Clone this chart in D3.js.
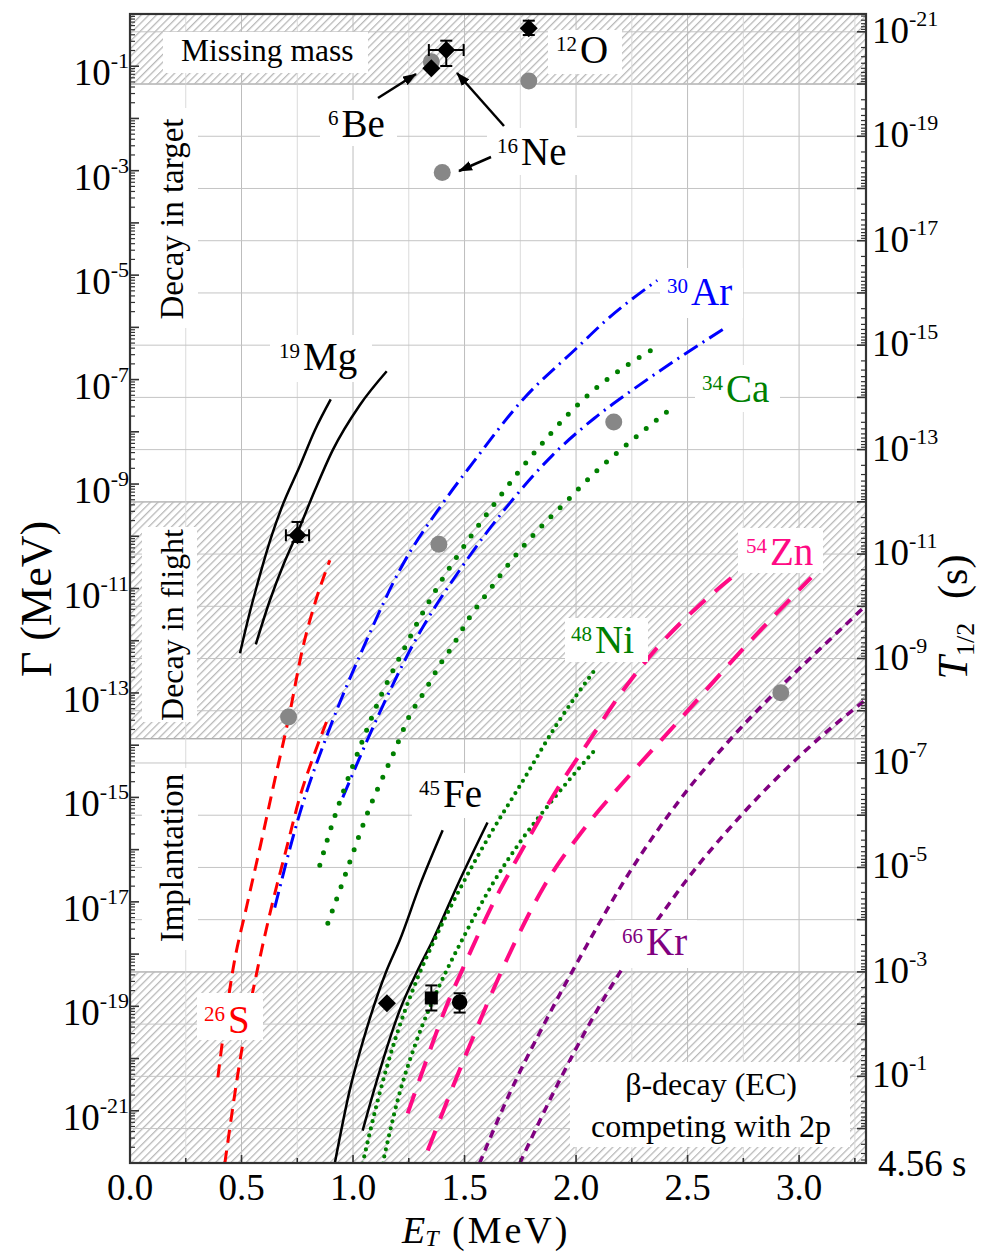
<!DOCTYPE html>
<html>
<head>
<meta charset="utf-8">
<script src="https://cdn.jsdelivr.net/npm/d3@7"></script>
<style>
  body { margin: 0; background: #fff; }
  svg { display: block; font-family: "Liberation Serif", "Times New Roman", serif; }
</style>
</head>
<body>
<svg id="chart" width="984" height="1253"></svg>
<script>
// ---------- data: [E_T (MeV), log10 Gamma (MeV)] ----------
const mg19a = [[0.493,-12.24],[0.537,-11.46],[0.582,-10.75],[0.636,-9.98],[0.681,-9.44],[0.761,-8.66],[0.829,-7.97],[0.900,-7.38]];
const mg19b = [[0.564,-12.07],[0.627,-11.23],[0.690,-10.52],[0.752,-9.92],[0.829,-9.12],[0.909,-8.35],[1.030,-7.49],[1.151,-6.84]];
const s26a  = [[0.394,-20.36],[0.430,-19.18],[0.461,-18.31],[0.524,-17.07],[0.587,-15.88],[0.649,-14.67],[0.712,-13.47],[0.775,-12.13],[0.833,-11.23],[0.896,-10.46]];
const s26b  = [[0.425,-22.01],[0.506,-19.71],[0.573,-18.26],[0.636,-17.07],[0.699,-16.02],[0.761,-15.00],[0.824,-14.20],[0.887,-13.49]];
const ar30a = [[0.649,-17.11],[0.761,-15.31],[0.887,-13.77],[1.061,-11.99],[1.209,-10.65],[1.402,-9.37],[1.536,-8.60],[1.760,-7.39],[2.002,-6.40],[2.136,-5.86],[2.364,-5.10]];
const ar30b = [[0.954,-15.00],[1.120,-13.37],[1.267,-12.09],[1.509,-10.46],[1.702,-9.37],[1.894,-8.45],[2.082,-7.74],[2.239,-7.24],[2.432,-6.67],[2.665,-6.02]];
const ca34a = [[0.851,-16.30],[0.909,-15.48],[0.954,-14.92],[1.003,-14.35],[1.052,-13.81],[1.106,-13.24],[1.164,-12.70],[1.232,-12.13],[1.299,-11.57],[1.375,-11.00],[1.455,-10.46],[1.545,-9.90],[1.639,-9.35],[1.738,-8.79],[1.845,-8.24],[1.961,-7.68],[2.091,-7.16],[2.217,-6.76],[2.360,-6.38]];
const ca34b = [[0.887,-17.41],[0.958,-16.57],[1.026,-15.75],[1.075,-15.19],[1.133,-14.62],[1.191,-14.06],[1.245,-13.51],[1.321,-12.97],[1.397,-12.41],[1.442,-12.13],[1.523,-11.55],[1.617,-11.00],[1.715,-10.44],[1.827,-9.89],[1.953,-9.35],[2.082,-8.79],[2.212,-8.30],[2.342,-7.84],[2.409,-7.61]];
const ni48a = [[1.043,-22.01],[1.111,-20.80],[1.187,-19.66],[1.276,-18.60],[1.375,-17.64],[1.487,-16.69],[1.612,-15.73],[1.755,-14.73],[1.911,-13.62],[2.082,-12.57]];
const ni48b = [[1.133,-22.01],[1.200,-20.80],[1.285,-19.66],[1.388,-18.60],[1.500,-17.64],[1.621,-16.69],[1.755,-15.82],[1.912,-14.96],[2.091,-14.06]];
const zn54a = [[1.245,-21.05],[1.321,-20.13],[1.411,-19.08],[1.509,-18.12],[1.635,-16.97],[1.769,-15.92],[1.926,-14.77],[2.060,-13.91],[2.194,-13.05],[2.373,-12.09],[2.553,-11.32],[2.709,-10.75]];
const zn54b = [[1.335,-21.76],[1.523,-19.75],[1.715,-17.87],[1.858,-16.69],[2.038,-15.59],[2.239,-14.58],[2.463,-13.52],[2.763,-12.09],[3.054,-10.79]];
const kr66a = [[1.567,-22.01],[1.702,-20.67],[1.858,-19.33],[2.047,-17.84],[2.239,-16.44],[2.463,-15.06],[2.687,-13.91],[2.911,-12.91],[3.135,-11.99],[3.296,-11.34]];
const kr66b = [[1.747,-22.01],[1.926,-20.42],[2.194,-18.37],[2.373,-17.30],[2.494,-16.59],[2.741,-15.34],[2.992,-14.25],[3.157,-13.62],[3.296,-13.14]];
const fe45a = [[0.918,-22.01],[0.985,-20.61],[1.052,-19.56],[1.151,-18.31],[1.209,-17.74],[1.299,-16.69],[1.402,-15.63]];
const fe45b = [[1.043,-21.38],[1.120,-20.23],[1.209,-19.08],[1.290,-18.31],[1.357,-17.74],[1.478,-16.59],[1.603,-15.48]];

// theory / predicted widths (grey circles)
const grayE    = [1.351, 1.788, 1.400, 1.385, 2.169, 0.711, 2.918];
const grayLogG = [-0.914, -1.284, -3.033, -10.153, -7.810, -13.462, -12.994];

// experimental points (black)
const expE     = [1.351, 1.418, 1.788, 0.751, 1.152, 1.351, 1.478];
const expLogG  = [-1.040, -0.690, -0.274, -9.981, -18.94, -18.84, -18.92];
const expErrE  = [0, 0.078, 0.025, 0.052, 0, 0.02, 0.02];
const expLogLo = [null, -0.996, -0.402, -10.109, null, -19.08, -19.12];
const expLogHi = [null, -0.511, -0.128, -9.726, null, -18.60, -18.75];
const expShape = ['diamond', 'diamond', 'diamond', 'diamond', 'diamond', 'square', 'circle'];

// tick labels
const xTicks = [0, 0.5, 1.0, 1.5, 2.0, 2.5, 3.0];
const gammaLabelExp = [-1, -3, -5, -7, -9, -11, -13, -15, -17, -19, -21];
const tLabelExp = [-21, -19, -17, -15, -13, -11, -9, -7, -5, -3, -1];

// shaded regions, Gamma limits (MeV)
const HBAR_LN2 = 4.562e-22; // MeV*s
const zoneLo = [HBAR_LN2 / 1e-20, 1.33e-14, 1e-22];
const zoneHi = [1, HBAR_LN2 / 1e-12, HBAR_LN2 / 1e-3];

// ---------- scales ----------
const L = 130, T = 14, R = 866, B = 1163;
const x = d3.scaleLinear().domain([0, 3.3]).range([L, R]);
const y = d3.scaleLog().domain([1e-22, 1]).range([B, T]);
const yl = v => y(Math.pow(10, v));

const svg = d3.select('#chart');
const defs = svg.append('defs');

defs.append('clipPath').attr('id', 'plotclip')
  .append('rect').attr('x', L).attr('y', T).attr('width', R - L).attr('height', B - T);

defs.append('pattern').attr('id', 'hatch')
  .attr('patternUnits', 'userSpaceOnUse').attr('width', 5.4).attr('height', 5.4)
  .attr('patternTransform', 'rotate(45)')
  .append('line').attr('x1', 2.5).attr('y1', 0).attr('x2', 2.5).attr('y2', 5.4)
  .attr('stroke', '#a4a4a4').attr('stroke-width', 1);

defs.append('marker').attr('id', 'arrow')
  .attr('viewBox', '0 0 14 10').attr('refX', 13).attr('refY', 5)
  .attr('markerWidth', 14).attr('markerHeight', 10)
  .attr('markerUnits', 'userSpaceOnUse').attr('orient', 'auto')
  .append('path').attr('d', 'M0,0L14,5L0,10Z').attr('fill', '#000');

const plot = svg.append('g').attr('clip-path', 'url(#plotclip)');

//=========== hatched zones ===========
plot.selectAll('rect.zone').data(d3.range(zoneLo.length)).enter()
  .append('rect').attr('class', 'zone')
  .attr('x', L).attr('width', R - L)
  .attr('y', i => y(zoneHi[i]))
  .attr('height', i => y(zoneLo[i]) - y(zoneHi[i]))
  .attr('fill', 'url(#hatch)')
  .attr('stroke', '#b0b0b0').attr('stroke-width', 1.4);

//=========== grid ===========
const xGrid = d3.range(0.25, 3.3, 0.25);
plot.selectAll('line.vg').data(xGrid).enter().append('line')
  .attr('x1', d => x(d)).attr('x2', d => x(d)).attr('y1', T).attr('y2', B)
  .attr('stroke', d => (Math.abs(d * 2 - Math.round(d * 2)) < 1e-6) ? '#bdbdbd' : '#dadada')
  .attr('stroke-width', 1);

const tGrid = d3.range(-21, 1).map(k => HBAR_LN2 / Math.pow(10, k));
plot.selectAll('line.hg').data(tGrid).enter().append('line')
  .attr('x1', L).attr('x2', R).attr('y1', d => y(d)).attr('y2', d => y(d))
  .attr('stroke', '#c4c4c4').attr('stroke-width', 1);

//=========== curves ===========
const line = d3.line().x(d => x(d[0])).y(d => yl(d[1])).curve(d3.curveMonotoneX);
const curves = [
  { d: mg19a, c: '#000000', w: 2.5, dash: null },
  { d: mg19b, c: '#000000', w: 2.5, dash: null },
  { d: fe45a, c: '#000000', w: 2.5, dash: null },
  { d: fe45b, c: '#000000', w: 2.5, dash: null },
  { d: s26a,  c: '#ff0000', w: 3,   dash: '13 8' },
  { d: s26b,  c: '#ff0000', w: 3,   dash: '13 8' },
  { d: ar30a, c: '#0000ff', w: 3,   dash: '16 6 2 6' },
  { d: ar30b, c: '#0000ff', w: 3,   dash: '16 6 2 6' },
  { d: ca34a, c: '#008000', w: 5,   dash: '0 13', cap: 'round' },
  { d: ca34b, c: '#008000', w: 5,   dash: '0 13', cap: 'round' },
  { d: ni48a, c: '#008000', w: 4.2, dash: '0 7.2', cap: 'round' },
  { d: ni48b, c: '#008000', w: 4.2, dash: '0 7.2', cap: 'round' },
  { d: zn54a, c: '#ff0a84', w: 4,   dash: '21 13' },
  { d: zn54b, c: '#ff0a84', w: 4,   dash: '21 13' },
  { d: kr66a, c: '#800080', w: 3.5, dash: '8 6' },
  { d: kr66b, c: '#800080', w: 3.5, dash: '8 6' }
];
plot.selectAll('path.curve').data(curves).enter().append('path')
  .attr('class', 'curve')
  .attr('d', s => line(s.d))
  .attr('fill', 'none')
  .attr('stroke', s => s.c)
  .attr('stroke-width', s => s.w)
  .attr('stroke-dasharray', s => s.dash)
  .attr('stroke-linecap', s => s.cap || 'butt');

//=========== points ===========
plot.selectAll('circle.gray').data(grayE).enter().append('circle')
  .attr('cx', d => x(d)).attr('cy', (d, i) => yl(grayLogG[i]))
  .attr('r', 8.5).attr('fill', '#878787');

const ebar = plot.append('g').attr('stroke', '#000').attr('stroke-width', 2);
expE.forEach((e, i) => {
  const cx = x(e), cy = yl(expLogG[i]);
  if (expErrE[i] > 0.03) {
    const x0 = x(e - expErrE[i]), x1 = x(e + expErrE[i]);
    ebar.append('line').attr('x1', x0).attr('x2', x1).attr('y1', cy).attr('y2', cy);
    ebar.append('line').attr('x1', x0).attr('x2', x0).attr('y1', cy - 6).attr('y2', cy + 6);
    ebar.append('line').attr('x1', x1).attr('x2', x1).attr('y1', cy - 6).attr('y2', cy + 6);
  }
  if (expLogLo[i] !== null) {
    const y0 = yl(expLogLo[i]), y1 = yl(expLogHi[i]);
    ebar.append('line').attr('x1', cx).attr('x2', cx).attr('y1', y0).attr('y2', y1);
    ebar.append('line').attr('x1', cx - 6).attr('x2', cx + 6).attr('y1', y0).attr('y2', y0);
    ebar.append('line').attr('x1', cx - 6).attr('x2', cx + 6).attr('y1', y1).attr('y2', y1);
  }
});
const shapePath = {
  diamond: 'M0,-9L9,0L0,9L-9,0Z',
  square: 'M-6.5,-6.5H6.5V6.5H-6.5Z',
  circle: d3.symbol().type(d3.symbolCircle).size(190)()
};
plot.selectAll('path.exp').data(expE).enter().append('path')
  .attr('d', (d, i) => shapePath[expShape[i]])
  .attr('transform', (d, i) => 'translate(' + x(d) + ',' + yl(expLogG[i]) + ')')
  .attr('fill', '#000');

//=========== labels with white boxes ===========
const boxes = svg.append('g');
function box(x0, y0, x1, y1) {
  boxes.append('rect').attr('x', x0).attr('y', y0).attr('width', x1 - x0).attr('height', y1 - y0).attr('fill', '#fff');
}
function plain(txt, px, py, size, anchor, rot) {
  const t = boxes.append('text').attr('font-size', size).attr('fill', '#000')
    .attr('text-anchor', anchor || 'start').text(txt);
  if (rot) t.attr('transform', 'translate(' + px + ',' + py + ') rotate(-90)');
  else t.attr('x', px).attr('y', py);
}
function iso(sup, main, px, py, color) {
  const t = boxes.append('text').attr('x', px).attr('y', py).attr('fill', color);
  t.append('tspan').attr('font-size', 21).attr('dy', -12).text(sup);
  t.append('tspan').attr('font-size', 39).attr('dy', 12).attr('dx', 3).text(main);
}

box(163, 32, 368, 73);   plain('Missing mass', 181, 61, 31.5);
box(131, 108, 198, 328); plain('Decay in target', 183, 219, 33, 'middle', true);
box(142, 527, 197, 722); plain('Decay in flight', 183, 625, 32, 'middle', true);
box(142, 768, 198, 950); plain('Implantation', 183, 858, 33, 'middle', true);
box(570, 1062, 850, 1147);
plain('\u03b2-decay (EC)', 711, 1095, 32, 'middle');
plain('competing with 2p', 711, 1137, 32, 'middle');

box(320, 100, 397, 146);  iso('6', 'Be', 328, 137, '#000');
box(487, 128, 577, 175);  iso('16', 'Ne', 497, 165, '#000');
box(548, 30, 622, 74);    iso('12', 'O', 556, 63, '#000');
box(270, 335, 372, 382);  iso('19', 'Mg', 279, 370, '#000');
box(660, 268, 743, 318);  iso('30', 'Ar', 667, 305, '#0000ff');
box(695, 365, 780, 412);  iso('34', 'Ca', 702, 402, '#008000');
box(738, 528, 823, 573);  iso('54', 'Zn', 746, 565, '#ff0a84');
box(565, 618, 648, 662);  iso('48', 'Ni', 571, 653, '#008000');
box(412, 773, 497, 818);  iso('45', 'Fe', 419, 807, '#000');
box(615, 920, 697, 968);  iso('66', 'Kr', 622, 955, '#800080');
box(197, 993, 263, 1040); iso('26', 'S', 204, 1033, '#ff0000');

// arrows
const arrows = svg.append('g').attr('stroke', '#000').attr('stroke-width', 2.5);
[[378, 98, 416, 74], [504, 126, 457, 73], [491, 157, 459, 171]].forEach(a => {
  arrows.append('line').attr('x1', a[0]).attr('y1', a[1]).attr('x2', a[2]).attr('y2', a[3])
    .attr('marker-end', 'url(#arrow)');
});

//=========== axes ===========
const ax = svg.append('g').attr('stroke', '#333').attr('stroke-width', 1.6);
// left ticks (Gamma)
for (let k = -22; k <= 0; k++) {
  ax.append('line').attr('x1', L).attr('x2', L + 9).attr('y1', y(Math.pow(10, k))).attr('y2', y(Math.pow(10, k)));
  for (let mm = 2; mm <= 9; mm++) {
    const v = mm * Math.pow(10, k);
    if (v < 1) ax.append('line').attr('x1', L).attr('x2', L + 5).attr('y1', y(v)).attr('y2', y(v)).attr('stroke-width', 1.2);
  }
}
// right ticks (T1/2)
for (let k = -22; k <= 0; k++) {
  const g = HBAR_LN2 / Math.pow(10, k);
  if (g <= 1 && g >= 1e-22) ax.append('line').attr('x1', R).attr('x2', R - 9).attr('y1', y(g)).attr('y2', y(g));
  for (let mm = 2; mm <= 9; mm++) {
    const gm = HBAR_LN2 / (mm * Math.pow(10, k));
    if (gm <= 1 && gm >= 1e-22) ax.append('line').attr('x1', R).attr('x2', R - 5).attr('y1', y(gm)).attr('y2', y(gm)).attr('stroke-width', 1.2);
  }
}
// bottom ticks
d3.range(0, 3.3, 0.25).forEach(e => {
  const major = Math.abs(e * 2 - Math.round(e * 2)) < 1e-6;
  ax.append('line').attr('x1', x(e)).attr('x2', x(e)).attr('y1', B).attr('y2', B - (major ? 8 : 5));
});
// frame
svg.append('rect').attr('x', L).attr('y', T).attr('width', R - L).attr('height', B - T)
  .attr('fill', 'none').attr('stroke', '#333').attr('stroke-width', 2.2);

// tick labels
const lab = svg.append('g').attr('fill', '#000');
xTicks.forEach(e => {
  lab.append('text').attr('x', x(e)).attr('y', 1200).attr('font-size', 37)
    .attr('text-anchor', 'middle').text(d3.format('.1f')(e));
});
gammaLabelExp.forEach(k => {
  const t = lab.append('text').attr('x', 129).attr('y', y(Math.pow(10, k)) + 19)
    .attr('text-anchor', 'end').attr('font-size', 37);
  t.append('tspan').text('10');
  t.append('tspan').attr('font-size', 22).attr('dy', -17).text(String(k));
});
tLabelExp.forEach(k => {
  const t = lab.append('text').attr('x', 872).attr('y', y(HBAR_LN2 / Math.pow(10, k)) + 11)
    .attr('font-size', 37);
  t.append('tspan').text('10');
  t.append('tspan').attr('font-size', 22).attr('dy', -17).text(String(k));
});
lab.append('text').attr('x', 878).attr('y', 1176).attr('font-size', 37).text('4.56 s');

// axis titles
const xt = lab.append('text').attr('x', 402).attr('y', 1243).attr('font-size', 38);
xt.append('tspan').attr('font-style', 'italic').text('E');
xt.append('tspan').attr('font-style', 'italic').attr('font-size', 24).attr('dy', 3).text('T');
xt.append('tspan').attr('x', 452).attr('dy', -3).attr('letter-spacing', 3).text('(MeV)');

lab.append('text').attr('transform', 'translate(51,599) rotate(-90)')
  .attr('text-anchor', 'middle').attr('font-size', 44).text('\u0393 (MeV)');

const rt = lab.append('text').attr('transform', 'translate(967,617) rotate(-90)')
  .attr('text-anchor', 'middle').attr('font-size', 42);
rt.append('tspan').attr('font-style', 'italic').text('T');
rt.append('tspan').attr('font-size', 26).attr('dy', 7).text('1/2');
rt.append('tspan').attr('dy', -7).attr('dx', 24).text('(s)');
</script>
</body>
</html>
